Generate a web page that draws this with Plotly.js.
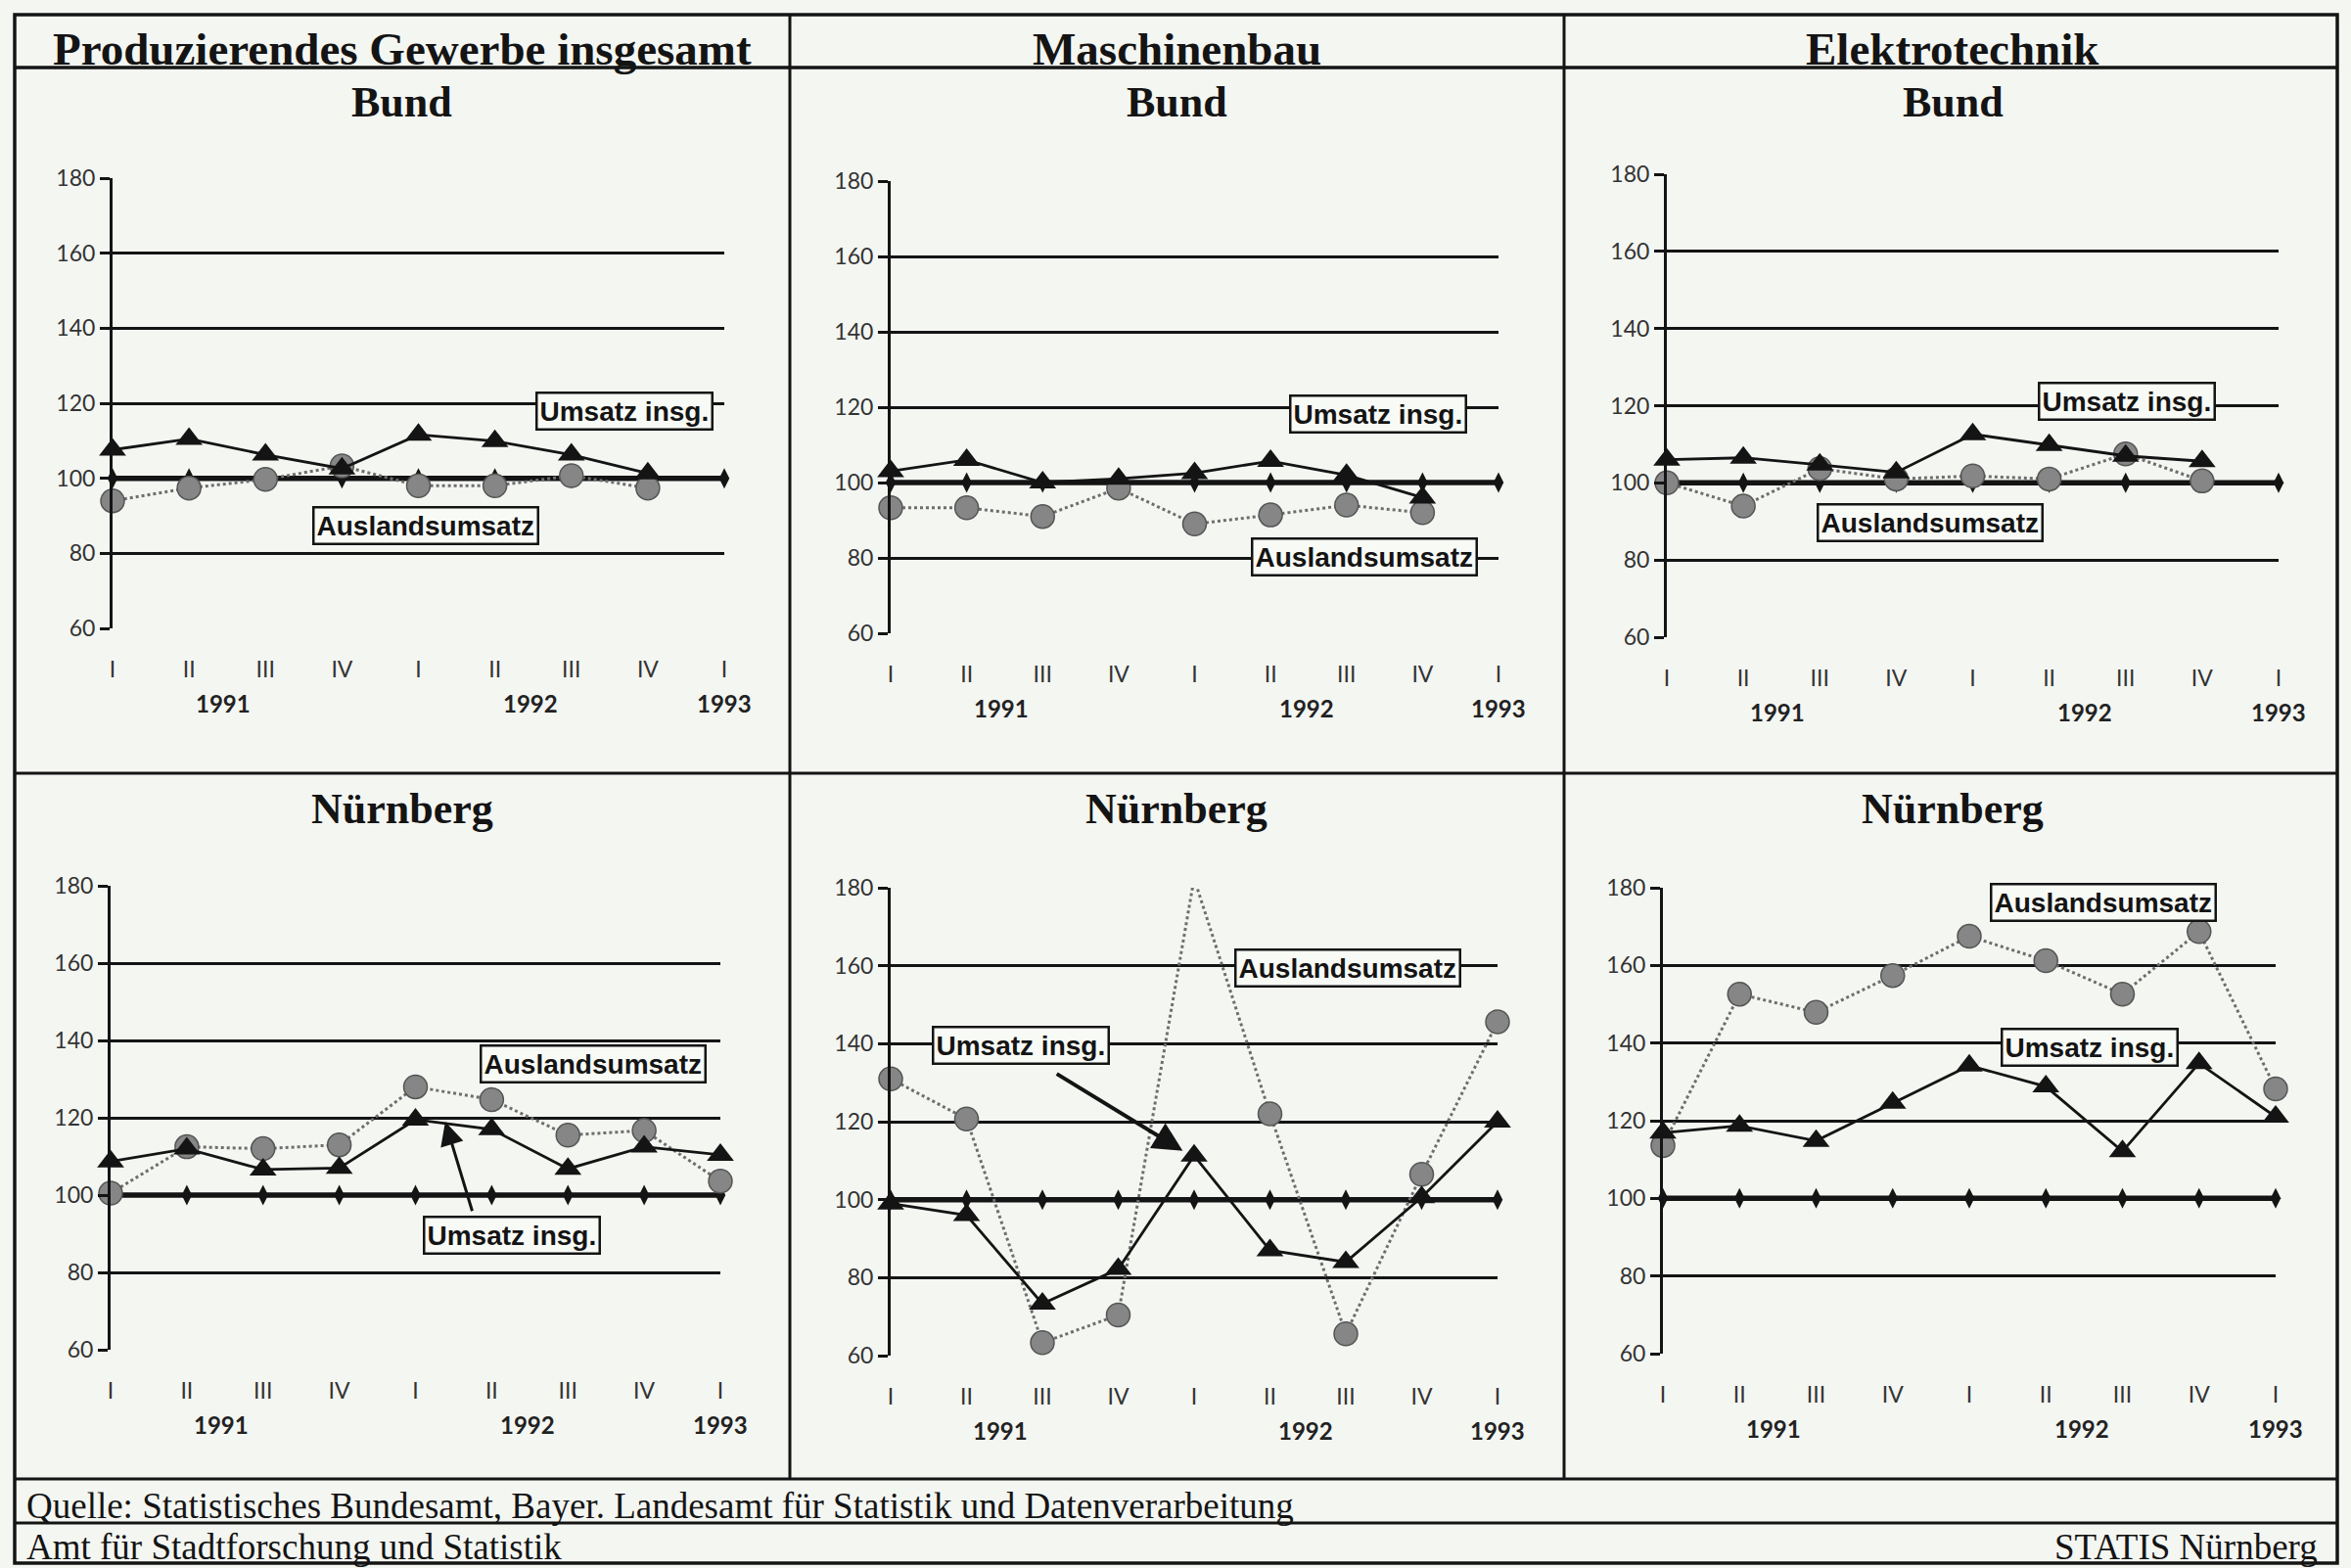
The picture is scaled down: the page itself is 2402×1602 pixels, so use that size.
<!DOCTYPE html>
<html>
<head>
<meta charset="utf-8">
<script src="https://cdn.plot.ly/plotly-3.0.1.min.js"></script>
<style>html,body{margin:0;padding:0;background:#f4f6f2;}#chart{width:2402px;height:1602px;}</style>
</head>
<body>
<div id="chart"></div>
<script>
// ---------- DATA ----------
const quarterLabels = ['I','II','III','IV','I','II','III','IV','I'];
const yearLabels = ['1991','1992','1993'];
const yearPositions = [1.45, 5.47, 8];
const yTicks = [60, 80, 100, 120, 140, 160, 180];

const basis = [100, 100, 100, 100, 100, 100, 100, 100, 100];

// Produzierendes Gewerbe insgesamt
const umsatzProdBund   = [107.6, 110.5, 106.3, 102.6, 111.6, 109.9, 106.3, 101.3];
const auslandProdBund  = [94.0, 97.4, 99.7, 103.3, 98.0, 98.0, 100.7, 97.4];
const umsatzProdNbg    = [108.7, 112.0, 106.6, 107.0, 119.5, 117.0, 106.8, 112.5, 110.4];
const auslandProdNbg   = [100.5, 112.5, 112.0, 113.0, 128.0, 124.7, 115.5, 116.7, 103.6];

// Maschinenbau
const umsatzMaschBund  = [103.0, 106.0, 100.0, 101.0, 102.5, 105.7, 102.0, 96.0];
const auslandMaschBund = [93.3, 93.3, 91.0, 98.5, 89.0, 91.4, 94.0, 92.0];
const umsatzMaschNbg   = [99.0, 96.0, 73.3, 82.2, 111.3, 87.0, 84.0, 100.6, 120.0];
const auslandMaschNbg  = [131.0, 120.7, 63.3, 70.4, 182.4, 122.0, 65.6, 106.5, 145.6];

// Elektrotechnik
const umsatzElekBund   = [106.0, 106.5, 104.7, 102.7, 112.6, 109.8, 107.0, 105.6];
const auslandElekBund  = [100.0, 94.0, 103.7, 101.0, 101.8, 101.0, 107.5, 100.5];
const umsatzElekNbg    = [116.9, 118.7, 114.8, 124.6, 134.2, 128.8, 112.1, 134.8, 121.0];
const auslandElekNbg   = [113.6, 152.6, 147.9, 157.4, 167.5, 161.2, 152.6, 168.7, 128.2];

const headerTitles = ['Produzierendes Gewerbe insgesamt', 'Maschinenbau', 'Elektrotechnik'];
const regionTitles = ['Bund', 'Nürnberg'];
const labelUmsatz = 'Umsatz insg.';
const labelAusland = 'Auslandsumsatz';
const sourceText = 'Quelle: Statistisches Bundesamt, Bayer. Landesamt für Statistik und Datenverarbeitung';
const authorText = 'Amt für Stadtforschung und Statistik';
const brandText = 'STATIS Nürnberg';

// ---------- LAYOUT HELPERS ----------
const W = 2402, H = 1602;
const px = x => x / W;
const py = y => 1 - y / H;
const BG = '#f4f6f2';
const INK = '#141414';

// panel geometry (pixels) and label placements (axis units)
const panels = [
  {u: umsatzProdBund, a: auslandProdBund, x0:115, x1:740, y0:182, y1:642, col:0, row:0,
   uBox:[6.69,118.0], aBox:[4.10,87.5]},
  {u: umsatzMaschBund, a: auslandMaschBund, x0:910, x1:1531, y0:185, y1:647, col:1, row:0,
   uBox:[6.42,118.2], aBox:[6.24,80.3]},
  {u: umsatzElekBund, a: auslandElekBund, x0:1703, x1:2328, y0:178, y1:651, col:2, row:0,
   uBox:[6.02,121.1], aBox:[3.44,89.6]},
  {u: umsatzProdNbg, a: auslandProdNbg, x0:113, x1:736, y0:905, y1:1379, col:0, row:1,
   uBox:[5.26,89.5], aBox:[6.33,134.0], arrow:{tail:[4.75,95.5], head:[4.39,119.0], w:3, s:1.6}},
  {u: umsatzMaschNbg, a: auslandMaschNbg, x0:910, x1:1530, y0:907, y1:1385, col:1, row:1,
   uBox:[1.72,139.7], aBox:[6.03,159.4], arrow:{tail:[2.17,132.5], head:[3.85,112.5], w:4, s:1.5}},
  {u: umsatzElekNbg, a: auslandElekNbg, x0:1699, x1:2325, y0:907, y1:1383, col:2, row:1,
   uBox:[5.57,138.9], aBox:[5.75,176.1]}
];

const colCenters = [411, 1202, 1995];
const idx = quarterLabels.map((_, i) => i);

const traces = [];
const layout = {
  width: W, height: H,
  margin: {l:0, r:0, t:0, b:0},
  paper_bgcolor: BG, plot_bgcolor: BG,
  showlegend: false,
  annotations: [], shapes: []
};

const tickFont = {family: 'Lato, "Open Sans", sans-serif', size: 23, color: '#333'};

panels.forEach((p, k) => {
  const n = k + 1;
  const xa = 'x' + (n === 1 ? '' : n);
  const ya = 'y' + (n === 1 ? '' : n);
  const xKey = 'xaxis' + (n === 1 ? '' : n);
  const yKey = 'yaxis' + (n === 1 ? '' : n);

  layout[xKey] = {
    domain: [px(p.x0), px(p.x1)], range: [0, 8], anchor: ya,
    tickmode: 'array', tickvals: idx, ticktext: quarterLabels,
    showgrid: false, zeroline: false, showline: false,
    ticks: 'outside', ticklen: 21, tickcolor: 'rgba(0,0,0,0)',
    tickfont: tickFont, fixedrange: true
  };
  layout[yKey] = {
    domain: [py(p.y1), py(p.y0)], range: [60, 180], anchor: xa,
    tickmode: 'array', tickvals: yTicks,
    showgrid: true, gridcolor: INK, gridwidth: 3,
    zeroline: false, showline: true, linecolor: INK, linewidth: 3,
    ticks: 'outside', ticklen: 10, tickwidth: 3, tickcolor: INK,
    tickfont: tickFont, fixedrange: true
  };

  // base line 100
  traces.push({
    x: idx, y: basis, xaxis: xa, yaxis: ya, type: 'scatter', mode: 'lines+markers',
    line: {color: INK, width: 5.5}, marker: {symbol: 'diamond-tall', size: 15, color: INK},
    cliponaxis: false, hoverinfo: 'skip'
  });
  // Auslandsumsatz
  traces.push({
    x: idx.slice(0, p.a.length), y: p.a, xaxis: xa, yaxis: ya, type: 'scatter', mode: 'lines+markers',
    line: {color: '#6e6e6e', width: 3, dash: 'dot'},
    marker: {symbol: 'circle', size: 24, color: '#868686', line: {color: '#555', width: 1.5}},
    cliponaxis: false, name: labelAusland
  });
  // Umsatz insgesamt
  traces.push({
    x: idx.slice(0, p.u.length), y: p.u, xaxis: xa, yaxis: ya, type: 'scatter', mode: 'lines+markers',
    line: {color: INK, width: 2.8},
    marker: {symbol: 'triangle-up', size: 24, color: INK},
    cliponaxis: false, name: labelUmsatz
  });

  // year labels
  yearLabels.forEach((yl, j) => {
    layout.annotations.push({
      text: '<b>' + yl + '</b>', xref: xa, yref: 'paper', x: yearPositions[j], y: py(p.y1 + 76),
      xanchor: 'center', yanchor: 'middle', showarrow: false,
      font: {family: 'Lato, "Open Sans", sans-serif', size: 24, color: '#222'}
    });
  });

  // series labels in boxes
  const boxFont = {family: '"Liberation Sans", Arial, sans-serif', size: 28, color: INK};
  [[labelUmsatz, p.uBox], [labelAusland, p.aBox]].forEach(([t, pos]) => {
    layout.annotations.push({
      text: '<b>' + t + '</b>', xref: xa, yref: ya, x: pos[0], y: pos[1],
      xanchor: 'center', yanchor: 'middle', showarrow: false,
      bgcolor: '#f8faf6', bordercolor: INK, borderwidth: 2.5, borderpad: 2,
      font: boxFont
    });
  });

  if (p.arrow) {
    layout.annotations.push({
      text: '', xref: xa, yref: ya, x: p.arrow.head[0], y: p.arrow.head[1],
      axref: xa, ayref: ya, ax: p.arrow.tail[0], ay: p.arrow.tail[1],
      showarrow: true, arrowhead: 2, arrowsize: p.arrow.s, arrowwidth: p.arrow.w, arrowcolor: INK
    });
  }

  // region title
  layout.annotations.push({
    text: '<b>' + regionTitles[p.row] + '</b>', xref: 'paper', yref: 'paper',
    x: px(colCenters[p.col]), y: py(p.row === 0 ? 104 : 826),
    xanchor: 'center', yanchor: 'middle', showarrow: false,
    font: {family: '"Liberation Serif", "Times New Roman", serif', size: 44, color: INK}
  });
});

// header titles
headerTitles.forEach((t, j) => {
  layout.annotations.push({
    text: '<b>' + t + '</b>', xref: 'paper', yref: 'paper',
    x: px(colCenters[j]), y: py(50), xanchor: 'center', yanchor: 'middle', showarrow: false,
    font: {family: '"Liberation Serif", "Times New Roman", serif', size: 47, color: INK}
  });
});

// footer texts
const footFont = {family: '"Liberation Serif", "Times New Roman", serif', size: 37, color: INK};
layout.annotations.push({
  text: sourceText, xref: 'paper', yref: 'paper', x: px(25), y: py(1538),
  xanchor: 'left', yanchor: 'middle', showarrow: false, font: footFont
});
layout.annotations.push({
  text: authorText, xref: 'paper', yref: 'paper', x: px(25), y: py(1580),
  xanchor: 'left', yanchor: 'middle', showarrow: false, font: footFont
});
layout.annotations.push({
  text: brandText, xref: 'paper', yref: 'paper', x: px(2370), y: py(1580),
  xanchor: 'right', yanchor: 'middle', showarrow: false, font: footFont
});

// frame lines
const L = (x0, y0, x1, y1, w) => ({type: 'line', xref: 'paper', yref: 'paper',
  x0: px(x0), y0: py(y0), x1: px(x1), y1: py(y1), line: {color: INK, width: w || 3}});
layout.shapes.push({type: 'rect', xref: 'paper', yref: 'paper', x0: px(15), y0: py(1597), x1: px(2388), y1: py(15),
  line: {color: INK, width: 3.5}});
layout.shapes.push(L(15, 69, 2388, 69, 3.5));
layout.shapes.push(L(807, 15, 807, 1511));
layout.shapes.push(L(1598, 15, 1598, 1511));
layout.shapes.push(L(15, 790, 2388, 790));
layout.shapes.push(L(15, 1511, 2388, 1511));
layout.shapes.push(L(15, 1556, 2388, 1556));

Plotly.newPlot('chart', traces, layout, {staticPlot: true, displayModeBar: false});
</script>
</body>
</html>
